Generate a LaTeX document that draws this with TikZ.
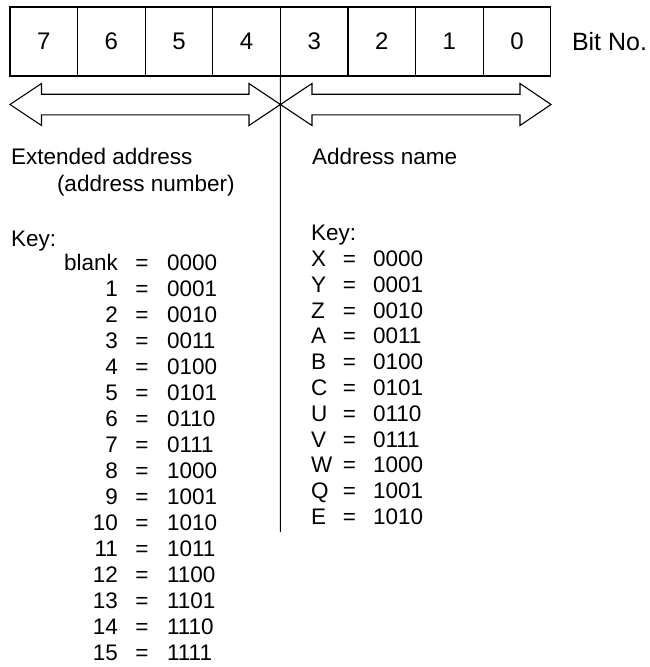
\documentclass[tikz,border=0pt]{standalone}
\usepackage{fontspec}
\setmainfont{Liberation Sans}
\begin{document}
\begin{tikzpicture}[x=1pt,y=-1pt, line width=1.1pt,
  bitbox/.style={draw, minimum width=67.6pt, minimum height=69pt, inner sep=0pt, outer sep=0pt, font=\fontsize{24}{28}\selectfont},
  keytext/.style={font=\fontsize{22.5}{27}\selectfont, inner sep=0pt, outer sep=0pt},
  arrowshape/.style={draw, line join=miter, line width=1.1pt}]
\useasboundingbox (0,0) rectangle (649,667);
% bit boxes
\foreach \d [count=\i from 0] in {7,6,5,4,3,2,1,0}
  \node[bitbox] (b\d) at ({10+67.6*\i+33.8}, 41.5) {\d};
\node[keytext, font=\fontsize{25}{29}\selectfont, anchor=base west] (bitno) at (572,50) {Bit No.};
% double arrows
\draw[arrowshape] (10,104.5) -- (41.5,83.5) -- (41.5,94.2) -- (249,94.2) -- (249,83.5) -- (280.4,104.5)
  -- (249,125.5) -- (249,114.8) -- (41.5,114.8) -- (41.5,125.5) -- cycle;
\draw[arrowshape] (280.4,104.5) -- (312,83.5) -- (312,94.2) -- (520,94.2) -- (520,83.5) -- (551,104.5)
  -- (520,125.5) -- (520,114.8) -- (312,114.8) -- (312,125.5) -- cycle;
% divider line
\coordinate (vend) at (280.4,532);
\draw (b4.south east) -- (vend);
% headings
\node[keytext, anchor=base west] (ext) at (11,164) {Extended address};
\node[keytext, anchor=base west] (extn) at (57,191) {(address number)};
\node[keytext, anchor=base west] (addr) at (312,164) {Address name};
% left key
\node[keytext, anchor=base west] (lkey) at (11,246) {Key:};
\foreach \n/\v [count=\k from 0] in {blank/0000,1/0001,2/0010,3/0011,4/0100,5/0101,6/0110,7/0111,8/1000,9/1001,10/1010,11/1011,12/1100,13/1101,14/1110,15/1111}{
  \node[keytext, anchor=base east] (ln\k) at (118,{270+26*\k}) {\n};
  \node[keytext, anchor=base] (le\k) at (142,{270+26*\k}) {=};
  \node[keytext, anchor=base west] (lv\k) at (167,{270+26*\k}) {\v};
}
% right key
\node[keytext, anchor=base west] (rkey) at (311,240.5) {Key:};
\foreach \n/\v [count=\k from 0] in {X/0000,Y/0001,Z/0010,A/0011,B/0100,C/0101,U/0110,V/0111,W/1000,Q/1001,E/1010}{
  \node[keytext, anchor=base west] (rn\k) at (311,{266.5+25.8*\k}) {\n};
  \node[keytext, anchor=base] (re\k) at (349.5,{266.5+25.8*\k}) {=};
  \node[keytext, anchor=base west] (rv\k) at (373,{266.5+25.8*\k}) {\v};
}
\end{tikzpicture}
\end{document}
